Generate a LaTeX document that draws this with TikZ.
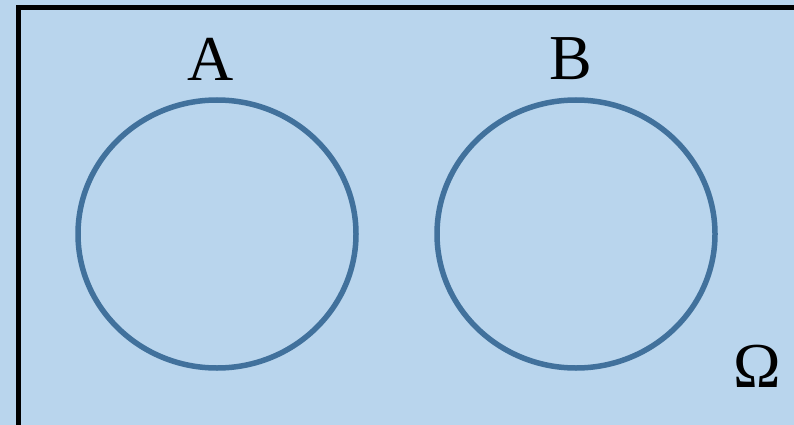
\documentclass[tikz,border=0pt]{standalone}
\usepackage{fontspec}
\usetikzlibrary{shapes.geometric}
\setmainfont{Liberation Serif}
\definecolor{bgblue}{HTML}{B9D5ED}
\definecolor{ringblue}{HTML}{41719C}
\tikzset{
  ring/.style={draw=ringblue, line width=5.5pt, ellipse, minimum width=278pt, minimum height=268pt, inner sep=0pt},
  setlabel/.style={font=\fontsize{64}{68}\selectfont, inner sep=0pt, text=black}
}
\begin{document}
\begin{tikzpicture}[x=1pt,y=-1pt]
\useasboundingbox (0,0) rectangle (794,425);
\fill[bgblue] (0,0) rectangle (794,425);
\begin{scope}
\clip (0,0) rectangle (794,425);
\draw[line width=5pt] (18,8) rectangle (810,440);
\end{scope}
\node[ring] (A) at (217,234) {};
\node[ring] (B) at (576,234) {};
\node[setlabel] (la) at (211,59) {A};
\node[setlabel] (lb) at (571,59) {B};
\node[setlabel] (om) at (757,366) {Ω};
\end{tikzpicture}
\end{document}
